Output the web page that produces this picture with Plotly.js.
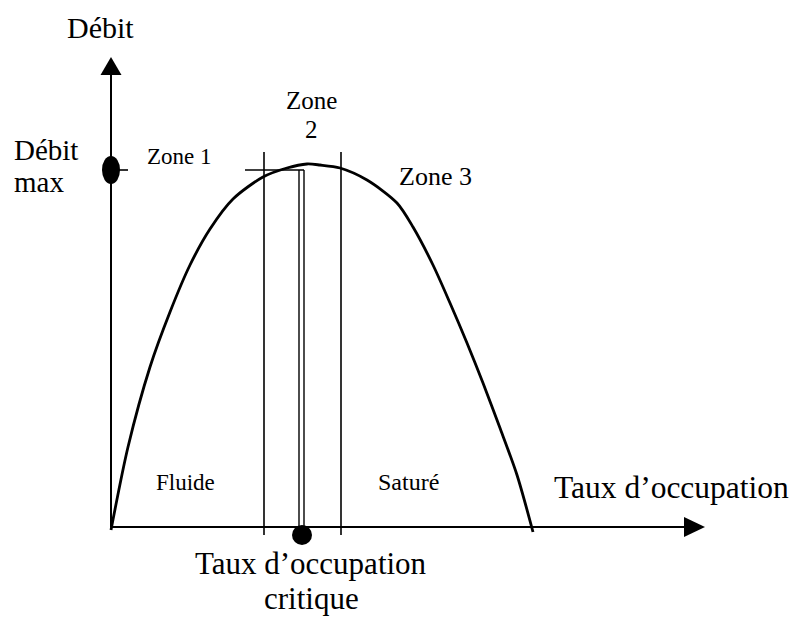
<!DOCTYPE html>
<html>
<head>
<meta charset="utf-8">
<script src="https://cdn.plot.ly/plotly-3.0.1.min.js"></script>
<style>body{margin:0;background:#fff}</style>
</head>
<body>
<div id="chart" style="width:801px;height:617px"></div>
<script>
// courbe débit / taux d'occupation (unités arbitraires du schéma)
const taux = [0, 17, 39, 59, 79, 99, 122, 152, 176, 196, 209, 229, 256, 286, 302, 322, 339, 356, 372, 389, 406, 422];
const debit = [-3, 80, 160, 215, 262, 298, 328, 350, 359, 363, 362, 359, 347, 324, 300, 262, 224, 184, 144, 99, 52, -5];
const limitesZones = [153, 230];
const tauxCritique = 191;
const debitMax = 357;
const finAxeX = 594;
const finAxeY = 470;

const noir = "#000";
const police = "Liberation Serif, Times New Roman, serif";

function ligne(x0, y0, x1, y1, w) {
    return { type: "line", x0, y0, x1, y1, line: { color: noir, width: w || 1.6 } };
}

let shapes = [];
// axes + fleches
shapes.push(ligne(0, 0, 0, finAxeY - 18, 2));
shapes.push(ligne(0, 0, finAxeX - 21, 0, 2));
shapes.push({ type: "path", path: `M -10.5,${finAxeY - 18} L 10.5,${finAxeY - 18} L 0,${finAxeY} Z`, fillcolor: noir, line: { width: 0 } });
shapes.push({ type: "path", path: `M ${finAxeX - 21},-10 L ${finAxeX - 21},10 L ${finAxeX},0 Z`, fillcolor: noir, line: { width: 0 } });
// limites des zones
limitesZones.forEach(x => shapes.push(ligne(x, -8, x, 375, 1.6)));
// débit max
shapes.push(ligne(0, debitMax, 17, debitMax, 1.6));
shapes.push(ligne(tauxCritique - 57, debitMax, tauxCritique + 2, debitMax, 1.6));
shapes.push(ligne(tauxCritique - 3, debitMax, tauxCritique - 3, 0, 1.4));
shapes.push(ligne(tauxCritique + 2, debitMax, tauxCritique + 2, 0, 1.4));
shapes.push({ type: "circle", x0: -9, x1: 9, y0: debitMax - 14, y1: debitMax + 14, fillcolor: noir, line: { width: 0 } });
shapes.push({ type: "circle", x0: tauxCritique - 10, x1: tauxCritique + 10, y0: -18, y1: 2, fillcolor: noir, line: { width: 0 } });

function texte(t, x, y, taille, ancre) {
    return { text: t, x, y, xref: "x", yref: "y", showarrow: false, xanchor: ancre || "left", yanchor: "middle",
             borderpad: 0, font: { family: police, size: taille, color: noir } };
}

const annotations = [
    texte("Débit", -11, 500, 30, "center"),
    texte("Débit", -98, 377, 29),
    texte("max", -98, 345, 29),
    texte("Zone 1", 35, 371, 23),
    texte("Zone", 200, 427, 25, "center"),
    texte("2", 200, 398, 25, "center"),
    texte("Zone 3", 287, 351, 26),
    texte("Fluide", 44, 45, 23),
    texte("Saturé", 266, 45, 24),
    texte("Taux d’occupation", 442, 40, 31.5),
    texte("Taux d’occupation", 200, -36, 31, "center"),
    texte("critique", 200, -71, 31, "center")
];

Plotly.newPlot("chart", [
    { x: taux, y: debit, mode: "lines", line: { color: noir, width: 2.8, shape: "spline", smoothing: 0.8 }, hoverinfo: "skip" }
], {
    width: 801, height: 617,
    margin: { l: 0, r: 0, t: 0, b: 0 },
    paper_bgcolor: "#fff", plot_bgcolor: "#fff",
    showlegend: false,
    xaxis: { range: [-111, 690], visible: false, fixedrange: true },
    yaxis: { range: [-90, 527], visible: false, fixedrange: true },
    shapes, annotations
}, { staticPlot: true });
</script>
</body>
</html>
